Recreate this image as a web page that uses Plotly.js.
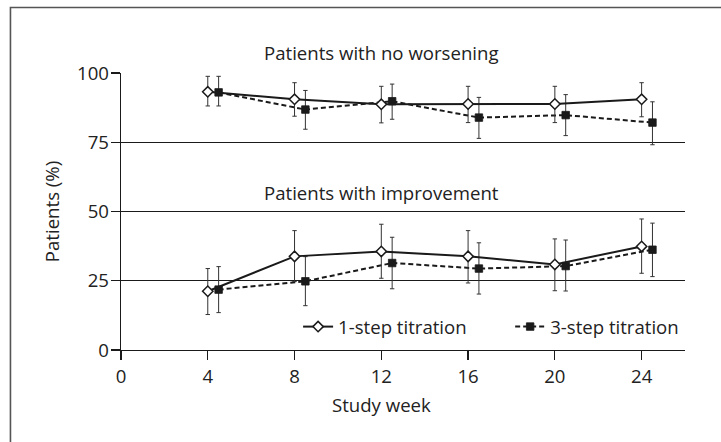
<!DOCTYPE html>
<html>
<head>
<meta charset="utf-8">
<script src="https://cdn.plot.ly/plotly-3.0.1.min.js"></script>
<style>html,body{margin:0;padding:0;background:#fff;}#chart{width:721px;height:442px;}</style>
</head>
<body>
<div id="chart"></div>
<script>
// Study weeks
const weeks = [4, 8, 12, 16, 20, 24];
const offset3 = 0.5; // horizontal offset of 3-step markers
const xTicks = [0, 4, 8, 12, 16, 20, 24];
const yTicks = [0, 25, 50, 75, 100];

// Patients with no worsening (%)
const noWorse1 = [93.2, 90.5, 88.7, 88.8, 88.8, 90.5];
const noWorse1Hi = [98.8, 96.5, 95.2, 95.2, 95.2, 96.5];
const noWorse1Lo = [88.1, 84.4, 82.0, 82.1, 82.1, 84.2];
const noWorse3 = [93.0, 86.8, 89.8, 83.9, 84.8, 82.1];
const noWorse3Hi = [98.8, 93.7, 96.0, 91.2, 92.2, 89.6];
const noWorse3Lo = [88.1, 79.7, 83.3, 76.4, 77.4, 74.1];

// Patients with improvement (%)
const improve1 = [21.2, 33.8, 35.6, 33.8, 30.9, 37.4];
const improve1Hi = [29.4, 43.1, 45.4, 43.1, 40.1, 47.3];
const improve1Lo = [12.8, 24.7, 25.9, 24.2, 21.4, 27.7];
const improve3 = [21.8, 24.8, 31.4, 29.4, 30.3, 36.2];
const improve3Hi = [30.1, 33.7, 40.7, 38.7, 39.7, 45.8];
const improve3Lo = [13.5, 16.0, 22.1, 20.2, 21.3, 26.5];

const seriesNames = ['1-step titration', '3-step titration'];

const weeks3 = weeks.map(w => w + offset3);
const up = (v, hi) => hi.map((h, i) => h - v[i]);
const down = (v, lo) => lo.map((l, i) => v[i] - l);

const ink = '#1a1a1a';
const errStyle = (v, hi, lo) => ({type: 'data', symmetric: false, array: up(v, hi), arrayminus: down(v, lo), color: '#333', thickness: 1, width: 2.2});
const style1 = {mode: 'lines+markers', line: {color: ink, width: 2}, marker: {symbol: 'diamond', size: 8, color: '#fff', line: {color: ink, width: 1.5}}};
const style3 = {mode: 'lines+markers', line: {color: ink, width: 2, dash: '5px,3px'}, marker: {symbol: 'square', size: 7.5, color: ink, line: {color: ink, width: 0.8}}};

const traces = [
  Object.assign({x: weeks3, y: noWorse3, name: seriesNames[1], showlegend: false, error_y: errStyle(noWorse3, noWorse3Hi, noWorse3Lo)}, style3),
  Object.assign({x: weeks, y: noWorse1, name: seriesNames[0], showlegend: false, error_y: errStyle(noWorse1, noWorse1Hi, noWorse1Lo)}, style1),
  Object.assign({x: weeks3, y: improve3, name: seriesNames[1], showlegend: true, legend: 'legend2', error_y: errStyle(improve3, improve3Hi, improve3Lo)}, style3),
  Object.assign({x: weeks, y: improve1, name: seriesNames[0], showlegend: true, legend: 'legend', error_y: errStyle(improve1, improve1Hi, improve1Lo)}, style1)
];

const font = {family: '"Open Sans", sans-serif', size: 18.6, color: '#222'};
const legendBase = {orientation: 'h', xanchor: 'left', y: 0.083, yanchor: 'middle', font: font, bgcolor: 'rgba(0,0,0,0)', borderwidth: 0};

const layout = {
  width: 721, height: 442,
  margin: {l: 121, r: 36, t: 73, b: 92},
  paper_bgcolor: '#fff', plot_bgcolor: '#fff',
  font: font,
  showlegend: true,
  legend: Object.assign({x: 0.314}, legendBase),
  legend2: Object.assign({x: 0.69}, legendBase),
  xaxis: {range: [0, 26], tickvals: xTicks, ticktext: xTicks.map(String), showgrid: false, zeroline: false, showline: true, linecolor: ink, linewidth: 1.3, ticks: 'outside', ticklen: 9, tickcolor: ink, tickwidth: 1.3, fixedrange: true},
  yaxis: {range: [0, 100], tickvals: yTicks, ticktext: yTicks.map(String), showgrid: true, gridcolor: ink, gridwidth: 1.3, zeroline: false, showline: true, linecolor: ink, linewidth: 1.3, ticks: 'outside', ticklen: 9, tickcolor: ink, tickwidth: 1.3, fixedrange: true, ticklabelstandoff: -2,
    title: {text: 'Patients (%)', font: font, standoff: 12}},
  annotations: [
    {x: 12, y: 1, xref: 'x', yref: 'paper', yshift: 21, text: 'Patients with no worsening', showarrow: false, font: font, xanchor: 'center', yanchor: 'middle'},
    {x: 12, y: 50, xref: 'x', yref: 'y', yshift: 19, text: 'Patients with improvement', showarrow: false, font: font, xanchor: 'center', yanchor: 'middle'},
    {x: 12, y: 0, xref: 'x', yref: 'paper', yshift: -54, text: 'Study week', showarrow: false, font: font, xanchor: 'center', yanchor: 'middle'}
  ],
  shapes: [
    {type: 'path', xref: 'paper', yref: 'paper', path: 'M -0.196 -0.4 L -0.196 1.2365 L 1.2 1.2365', line: {color: '#555', width: 1.6}}
  ]
};

Plotly.newPlot('chart', traces, layout, {displayModeBar: false, staticPlot: true});
</script>
</body>
</html>
